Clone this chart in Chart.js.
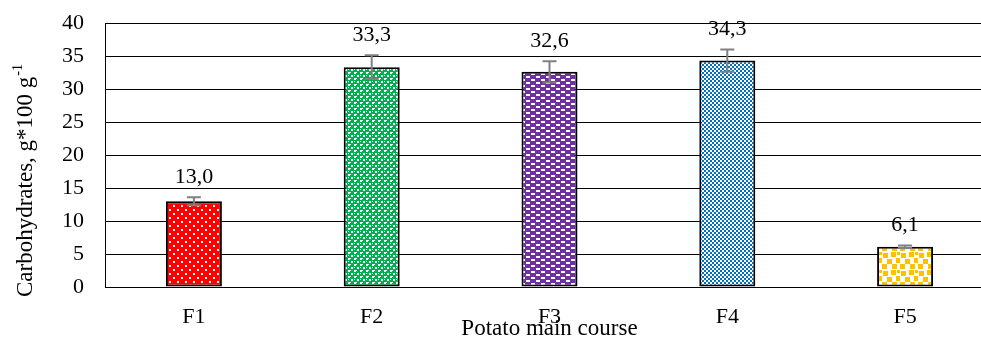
<!DOCTYPE html>
<html>
<head>
<meta charset="utf-8">
<script src="https://cdn.jsdelivr.net/npm/chart.js@4"></script>
<style>
  html, body { margin: 0; padding: 0; background: #fff; overflow: hidden; width: 981px; height: 340px; }
  #wrap { width: 1000px; height: 340px; }
</style>
</head>
<body>
<div id="wrap"><canvas id="chart" width="1000" height="340"></canvas></div>
<script>
// data
const categories = ['F1', 'F2', 'F3', 'F4', 'F5'];
const carbs = [13.0, 33.3, 32.6, 34.3, 6.1];
const errors = [0.6, 1.8, 1.6, 1.7, 0.2];
const yTicks = [0, 5, 10, 15, 20, 25, 30, 35, 40];

const FONT = '"Liberation Serif", "Times New Roman", serif';

// pattern fills
function makePattern(w, h, bg, fg, rects) {
    const c = document.createElement('canvas');
    c.width = w; c.height = h;
    const g = c.getContext('2d');
    g.fillStyle = bg;
    g.fillRect(0, 0, w, h);
    g.fillStyle = fg;
    rects.forEach(r => g.fillRect(r[0], r[1], r[2], r[3]));
    return g.createPattern(c, 'repeat');
}

const ctx = document.getElementById('chart').getContext('2d');
const fills = [
    makePattern(8, 8, '#ff0000', '#ffffff', [[1, 1, 2, 2], [5, 5, 2, 2]]),
    makePattern(6, 6, '#00b050', '#ffffff', [[0, 0, 2, 2], [3, 3, 2, 2], [2, 0, 1, 1], [0, 3, 1, 1]]),
    makePattern(10, 6, '#7030a0', '#ffffff', [[1, 1, 4, 2], [6, 4, 4, 2]]),
    makePattern(4, 4, '#0070c0', '#ffffff', [[0, 0, 2, 2], [2, 2, 2, 2]]),
    makePattern(18, 18, '#ffffff', '#ffc000', [[1, 1, 5, 5], [9, 0, 5, 5], [14, 6, 4, 5], [5, 7, 5, 5], [0, 12, 5, 5], [10, 12, 5, 5], [15, 0, 3, 3]])
];

// error bars and value labels
const extrasPlugin = {
    id: 'extras',
    afterDatasetsDraw(chart) {
        const c = chart.ctx;
        const y = chart.scales.y;
        const meta = chart.getDatasetMeta(0);
        c.save();
        meta.data.forEach((bar, i) => {
            const x = bar.x;
            const top = y.getPixelForValue(carbs[i] + errors[i]);
            const bot = y.getPixelForValue(carbs[i] - errors[i]);
            c.strokeStyle = '#808080';
            c.lineWidth = 2;
            c.beginPath();
            c.moveTo(x, top); c.lineTo(x, bot);
            c.moveTo(x - 7, top); c.lineTo(x + 7, top);
            c.moveTo(x - 7, bot); c.lineTo(x + 7, bot);
            c.stroke();
            c.fillStyle = '#000';
            c.font = '22px ' + FONT;
            c.textAlign = 'center';
            c.textBaseline = 'bottom';
            c.fillText(carbs[i].toFixed(1).replace('.', ','), x, top - 9);
        });
        c.restore();
    },
    afterDraw(chart) {
        const c = chart.ctx;
        const area = chart.chartArea;
        c.save();
        c.fillStyle = '#000';
        // x title
        c.font = '23px ' + FONT;
        c.textAlign = 'center';
        c.textBaseline = 'middle';
        c.fillText('Potato main course', (area.left + area.right) / 2, 329);
        // y title with superscript
        c.translate(26, 181);
        c.rotate(-Math.PI / 2);
        const main = 'Carbohydrates, g*100 g';
        c.font = '23px ' + FONT;
        const w1 = c.measureText(main).width;
        c.font = '14px ' + FONT;
        const w2 = c.measureText('-1').width;
        const start = -(w1 + w2) / 2;
        c.textAlign = 'left';
        c.font = '23px ' + FONT;
        c.fillText(main, start, 0);
        c.font = '14px ' + FONT;
        c.fillText('-1', start + w1 + 1, -8);
        c.restore();
    }
};

new Chart(ctx, {
    type: 'bar',
    data: {
        labels: categories,
        datasets: [{
            data: carbs,
            backgroundColor: fills,
            borderColor: '#000',
            borderWidth: 2,
            borderSkipped: false,
            barPercentage: 0.315,
            categoryPercentage: 1
        }]
    },
    options: {
        responsive: false,
        animation: false,
        layout: { padding: { top: 23, right: 6, left: 0, bottom: 0 } },
        plugins: {
            legend: { display: false },
            tooltip: { enabled: false }
        },
        scales: {
            x: {
                grid: { display: false, drawTicks: false },
                border: { color: '#000', width: 1 },
                ticks: { color: '#000', font: { family: FONT, size: 22 }, padding: 17 },
                afterFit(scale) { scale.height = 53; }
            },
            y: {
                min: 0,
                max: 40,
                afterBuildTicks(scale) { scale.ticks = yTicks.map(v => ({ value: v })); },
                grid: { color: '#000', lineWidth: 1, drawTicks: true, tickLength: 21, tickColor: 'rgba(0,0,0,0)' },
                border: { color: '#000', width: 1 },
                ticks: { color: '#000', font: { family: FONT, size: 22 }, padding: 0 },
                afterFit(scale) { scale.width = 105; }
            }
        }
    },
    plugins: [extrasPlugin]
});
</script>
</body>
</html>
